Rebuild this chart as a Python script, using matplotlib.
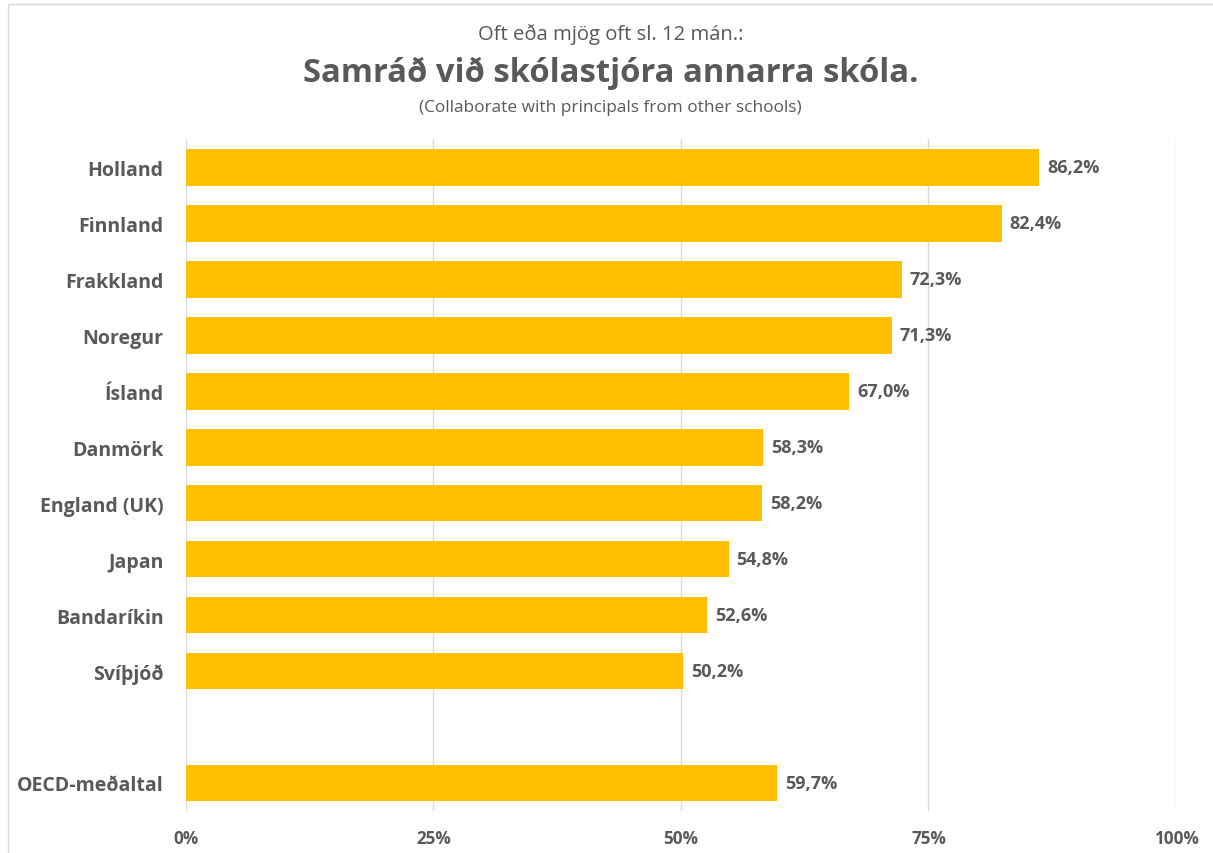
import matplotlib.pyplot as plt
from matplotlib.patches import Rectangle

countries = ['Holland', 'Finnland', 'Frakkland', 'Noregur', 'Ísland', 'Danmörk',
             'England (UK)', 'Japan', 'Bandaríkin', 'Svíþjóð', '', 'OECD-meðaltal']
values = [86.2, 82.4, 72.3, 71.3, 67.0, 58.3, 58.2, 54.8, 52.6, 50.2, None, 59.7]
xticks = [0, 25, 50, 75, 100]

plt.rcParams['font.family'] = ['Open Sans', 'DejaVu Sans']
grey = '#595959'
gold = '#FFC000'

fig = plt.figure(figsize=(12.13, 8.54), dpi=100)
ax = fig.add_axes([0.1533, 0.0492, 0.8162, 0.7868])

ypos = list(range(len(countries)))
for y, v in zip(ypos, values):
    if v is None:
        continue
    ax.barh(y, v, height=0.66, color=gold, zorder=2)
    ax.text(v + 0.8, y, f'{v:.1f}%'.replace('.', ','), va='center', ha='left',
            fontsize=13, fontweight='bold', color=grey)

ax.set_ylim(len(countries) - 0.5, -0.5)
ax.set_xlim(0, 100)
ax.set_yticks(ypos)
ax.set_yticklabels(countries, fontsize=14, fontweight='bold', color=grey)
ax.set_xticks(xticks)
ax.set_xticklabels([f'{t}%' for t in xticks], fontsize=12.3, fontweight='bold', color=grey)
ax.tick_params(axis='both', length=0)
ax.tick_params(axis='y', pad=16)
ax.tick_params(axis='x', pad=13)
ax.grid(axis='x', color='#D9D9D9', linewidth=1, zorder=0)
for s in ax.spines.values():
    s.set_visible(False)

fig.text(0.5035, 1 - 35 / 854, 'Oft eða mjög oft sl. 12 mán.:', ha='center', va='center',
         fontsize=14.6, color=grey)
fig.text(0.5035, 1 - 73 / 854, 'Samráð við skólastjóra annarra skóla.', ha='center', va='center',
         fontsize=23.6, fontweight='bold', color=grey)
fig.text(0.5035, 1 - 108 / 854, '(Collaborate with principals from other schools)', ha='center',
         va='center', fontsize=12.4, color=grey)

fig.patches.append(Rectangle((8 / 1213, -0.05), 1.1, 1 - 5 / 854 + 0.05, transform=fig.transFigure,
                             fill=False, edgecolor='#D9D9D9', linewidth=1))

fig.savefig('out.png', dpi=100)
